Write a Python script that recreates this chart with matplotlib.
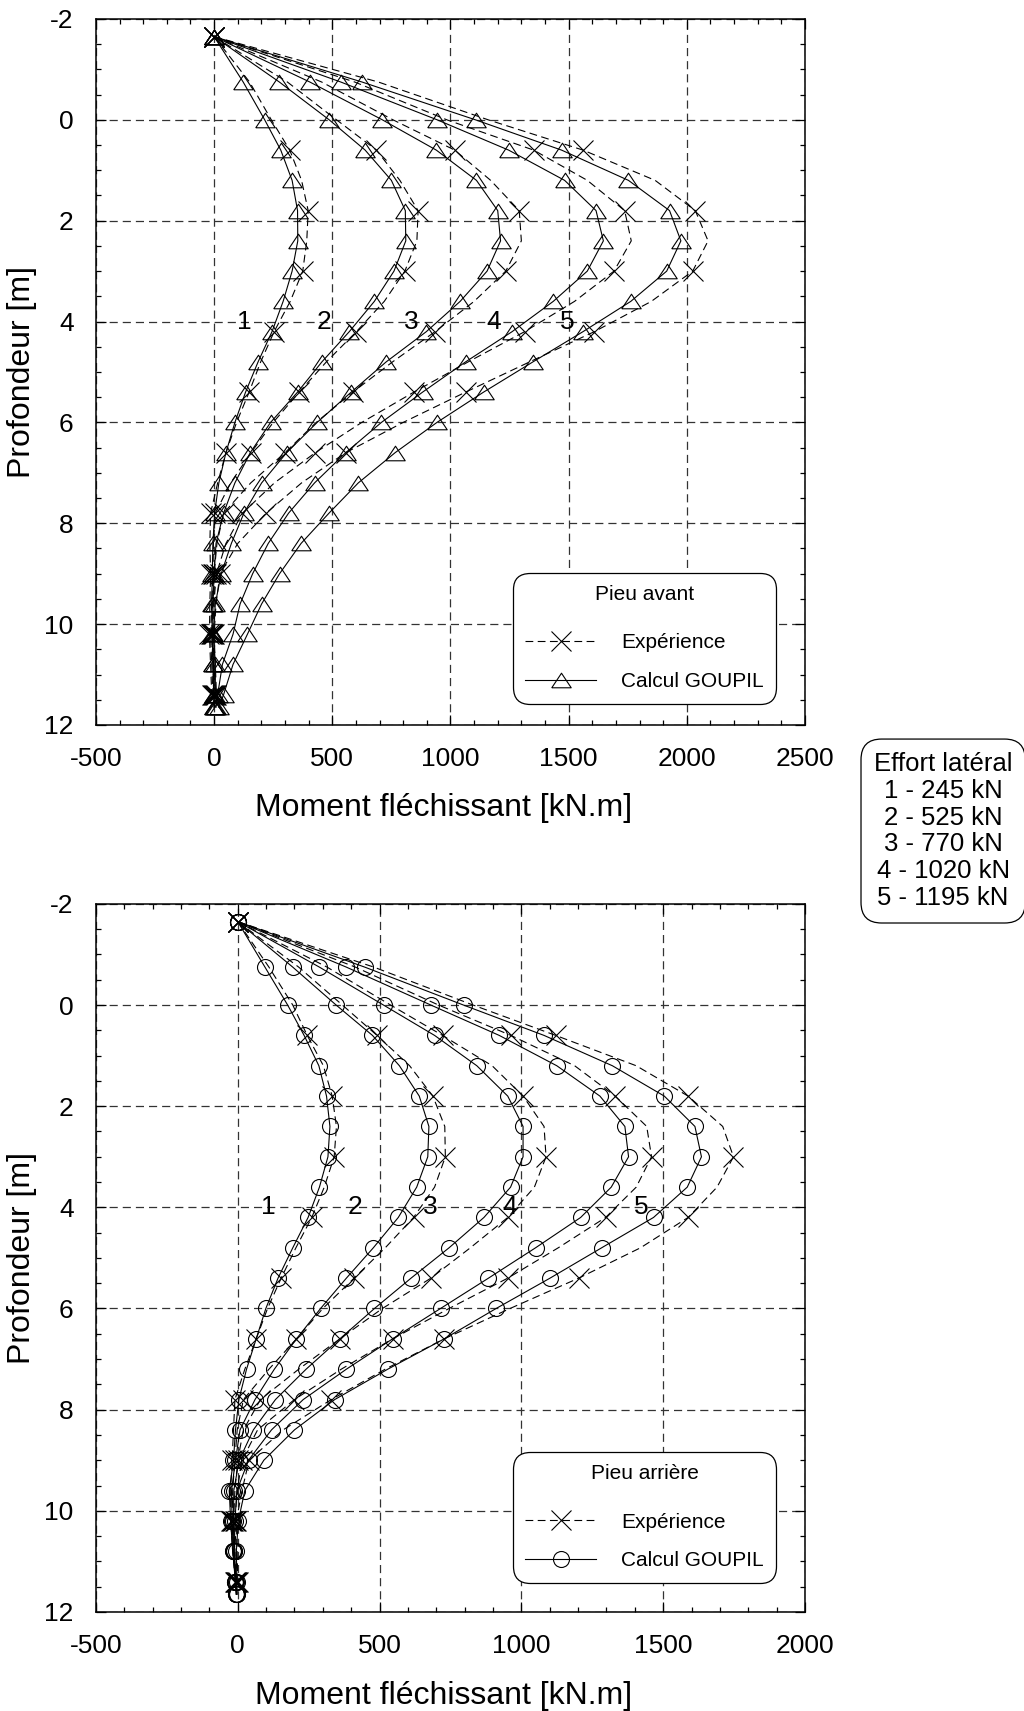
import matplotlib
matplotlib.use("Agg")
import matplotlib.pyplot as plt
from matplotlib.lines import Line2D
from matplotlib.ticker import MultipleLocator

plt.rcParams["font.family"] = ["Liberation Sans", "DejaVu Sans"]
plt.rcParams["axes.unicode_minus"] = False

# depths [m]: measured profile (dashed line, X marker every 1.2 m) and GOUPIL computation
DEPTH_EXP = [-1.65, -0.75, 0.0, 0.6, 1.2, 1.8, 2.4, 3.0, 3.6, 4.2, 4.8,
             5.4, 6.0, 6.6, 7.2, 7.8, 8.4, 9.0, 9.6, 10.2, 10.8, 11.4]
EXP_MARKS = [0, 3, 5, 7, 9, 11, 13, 15, 17, 19, 21]
DEPTH_CALC = DEPTH_EXP + [11.65]

LOAD_IDS = ["1", "2", "3", "4", "5"]
EFFORTS = ["1 - 245 kN", "2 - 525 kN", "3 - 770 kN", "4 - 1020 kN", "5 - 1195 kN"]

# Pieu avant, bending moment [kN.m]
AVANT_EXP = [
    [0, 150, 242, 320, 370, 398, 392, 375, 322, 254, 197, 148, 95, 50, 15, -15, -18, -15, -18, -20, -15, -10],
    [0, 310, 518, 687, 786, 863, 858, 807, 720, 602, 475, 360, 250, 156, 70, 5, -3, -5, -10, -15, -10, -5],
    [0, 455, 757, 1018, 1170, 1291, 1300, 1234, 1100, 935, 755, 587, 432, 300, 155, 40, 12, 0, -6, -10, -5, 0],
    [0, 595, 985, 1352, 1579, 1737, 1765, 1692, 1525, 1314, 1075, 845, 625, 428, 255, 120, 50, 10, -2, -5, 0, 5],
    [0, 695, 1160, 1561, 1866, 2036, 2090, 2025, 1850, 1609, 1335, 1064, 800, 557, 370, 220, 100, 25, 8, 0, 5, 10],
]
AVANT_CALC = [
    [0, 123, 214, 282, 330, 353, 354, 330, 292, 245, 186, 133, 88, 50, 20, 2, -5, -8, -10, -8, -5, -2, 0],
    [0, 276, 487, 639, 750, 809, 811, 761, 678, 572, 456, 353, 239, 153, 88, 40, 8, 0, -5, -5, -3, 0, 0],
    [0, 405, 712, 940, 1110, 1200, 1212, 1155, 1041, 898, 728, 580, 436, 307, 201, 126, 73, 30, 5, -3, 5, 5, 3],
    [0, 536, 944, 1246, 1483, 1616, 1647, 1579, 1435, 1261, 1064, 882, 708, 557, 425, 315, 229, 163, 110, 80, 35, 15, 8],
    [0, 626, 1106, 1470, 1753, 1927, 1975, 1915, 1763, 1561, 1349, 1140, 943, 766, 610, 486, 368, 277, 201, 141, 80, 40, 20],
]

# Pieu arriere
ARRIERE_EXP = [
    [0, 110, 194, 245, 302, 333, 348, 340, 305, 261, 205, 153, 105, 65, 25, -10, -15, -20, -25, -25, -18, -8],
    [0, 215, 369, 491, 606, 688, 730, 732, 694, 620, 520, 410, 300, 207, 110, 20, -2, -10, -18, -20, -14, -6],
    [0, 315, 539, 722, 897, 1006, 1080, 1087, 1046, 952, 820, 681, 510, 360, 215, 80, 20, 0, -10, -15, -10, -5],
    [0, 415, 708, 963, 1188, 1331, 1442, 1459, 1405, 1297, 1130, 952, 745, 546, 365, 200, 70, 15, -2, -10, -6, -3],
    [0, 480, 830, 1121, 1405, 1588, 1710, 1748, 1690, 1588, 1420, 1202, 960, 728, 520, 330, 160, 40, 15, -5, -2, 0],
]
ARRIERE_CALC = [
    [0, 96, 176, 234, 286, 313, 325, 318, 288, 248, 194, 142, 99, 65, 31, 4, -8, -15, -30, -25, -18, -8, -5],
    [0, 194, 347, 475, 570, 640, 674, 670, 631, 566, 478, 383, 292, 207, 129, 61, 8, -8, -22, -20, -16, -8, -5],
    [0, 288, 514, 694, 843, 952, 1006, 1006, 962, 868, 745, 611, 482, 360, 241, 133, 55, 5, -14, -15, -14, -8, -5],
    [0, 383, 681, 922, 1125, 1277, 1365, 1378, 1317, 1209, 1050, 884, 715, 546, 383, 231, 119, 38, -3, -10, -12, -6, -3],
    [0, 448, 796, 1080, 1321, 1504, 1612, 1635, 1585, 1466, 1283, 1101, 911, 728, 529, 342, 200, 92, 25, 2, -5, -3, -2],
]

# where the load numbers are written (depth 4 m)
AVANT_ID_X = [126, 466, 834, 1185, 1495]
ARRIERE_ID_X = [106, 413, 678, 958, 1423]

TRI = [(-1, -0.75), (1, -0.75), (0, 0.75), (-1, -0.75)]
DASH = (0, (7, 4))

fig = plt.figure(figsize=(10.24, 17.11), dpi=100)
ax1 = fig.add_axes([0.0937, 0.5763, 0.6924, 0.4126])
ax2 = fig.add_axes([0.0937, 0.0579, 0.6924, 0.4138])


def draw(ax, exp, calc, marker, ms, xmax, ids_x, title, leg_y):
    for e, c in zip(exp, calc):
        ax.plot(e, DEPTH_EXP, color="k", lw=0.8, ls=DASH, marker="x", ms=14,
                mew=0.8, markevery=EXP_MARKS, zorder=3)
        ax.plot(c, DEPTH_CALC, color="k", lw=0.8, marker=marker, ms=ms,
                mfc="none", mec="k", mew=0.8, zorder=3)
    for lab, x in zip(LOAD_IDS, ids_x):
        ax.text(x, 4.0, lab, fontsize=19, ha="center", va="center", zorder=4)

    ax.set_xlim(-500, xmax)
    ax.set_ylim(12, -2)
    ax.xaxis.set_major_locator(MultipleLocator(500))
    ax.xaxis.set_minor_locator(MultipleLocator(100))
    ax.yaxis.set_major_locator(MultipleLocator(2))
    ax.yaxis.set_minor_locator(MultipleLocator(0.5))
    ax.tick_params(which="both", direction="in", top=True, right=True,
                   labelsize=19, pad=16, width=0.9)
    ax.tick_params(which="major", length=7)
    ax.tick_params(which="minor", length=3.6)
    ax.grid(which="major", color="#333333", lw=0.9, ls=(0, (6.5, 4)))
    ax.set_axisbelow(True)
    for s in ax.spines.values():
        s.set_linewidth(1.1)

    ax.set_xlabel("Moment fléchissant [kN.m]", fontsize=23)
    ax.xaxis.set_label_coords(0.49, -0.097)
    ax.set_ylabel("Profondeur [m]", fontsize=23)
    ax.yaxis.set_label_coords(-0.083, 0.5)

    handles = [
        Line2D([], [], color="k", lw=0.8, ls=DASH, marker="x", ms=14, mew=0.8),
        Line2D([], [], color="k", lw=0.8, marker=marker, ms=ms, mfc="none", mew=0.8),
    ]
    leg = ax.legend(handles, ["Expérience", "Calcul GOUPIL"], title=title,
                    loc="lower left", bbox_to_anchor=(0.588, leg_y),
                    borderaxespad=0, fontsize=15, title_fontsize=15,
                    handlelength=3.4, handletextpad=1.2, labelspacing=0.95,
                    borderpad=0.6, fancybox=True, framealpha=1,
                    edgecolor="k")
    leg._legend_box.sep = 21  # more room under the legend title
    leg.get_frame().set_linewidth(0.9)
    leg.get_frame().set_boxstyle("round,pad=0,rounding_size=0.8")


draw(ax1, AVANT_EXP, AVANT_CALC, TRI, 14, 2500, AVANT_ID_X, "Pieu avant", 0.03)
draw(ax2, ARRIERE_EXP, ARRIERE_CALC, "o", 11.5, 2000, ARRIERE_ID_X, "Pieu arrière", 0.041)

fig.text(0.921, 0.5143, "Effort latéral\n" + "\n".join(EFFORTS),
         ha="center", va="center", fontsize=18.5, linespacing=1.15,
         bbox=dict(boxstyle="round,pad=0.5,rounding_size=0.8",
                   fc="white", ec="k", lw=0.9))

fig.savefig("out.png", dpi=100)
